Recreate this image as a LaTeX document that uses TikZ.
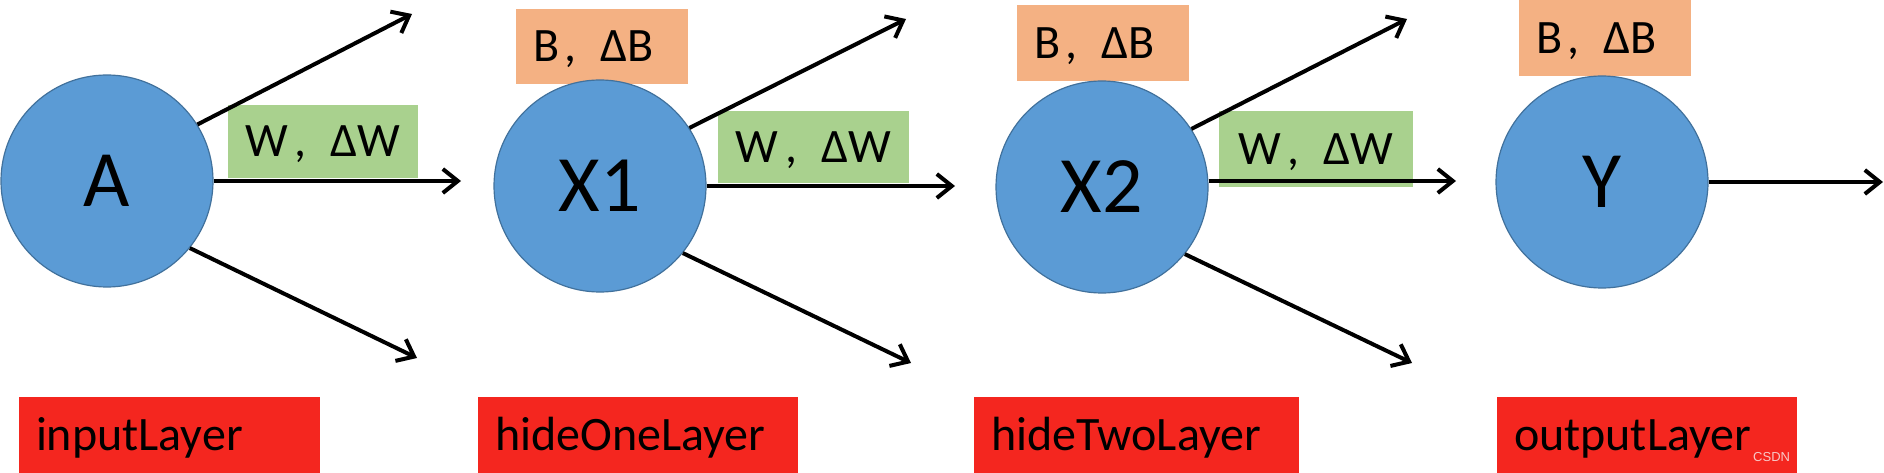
\documentclass[tikz,border=0pt]{standalone}
\usepackage{fontspec}
\setmainfont{Carlito}
\newfontfamily\wmfont{Liberation Sans}
\usetikzlibrary{arrows.meta}
\definecolor{nblue}{HTML}{5B9BD5}
\definecolor{nedge}{HTML}{41719C}
\definecolor{wgreen}{HTML}{A9D18E}
\definecolor{borange}{HTML}{F4B183}
\definecolor{lred}{HTML}{F4261F}
\definecolor{wmark}{HTML}{F8C8C6}
\newcommand{\wdw}{W\kern0.14em,\kern0.5em ΔW}
\newcommand{\bdb}{B\kern0.12em,\kern0.5em ΔB}
\begin{document}
\begin{tikzpicture}[x=1pt,y=-1pt,
  neuron/.style={circle, minimum size=212pt, inner sep=0pt, fill=nblue, draw=nedge, line width=1.2pt,
    font=\fontsize{80}{80}\selectfont},
  wbox/.style={fill=wgreen, inner sep=0pt, font=\fontsize{48}{48}\selectfont, text height=31pt, text depth=0pt},
  bbox/.style={fill=borange, inner xsep=17pt, inner ysep=0pt, align=left, text width=138pt,
    minimum width=172pt, font=\fontsize{48}{48}\selectfont, text height=31pt, text depth=0pt},
  lbox/.style={fill=lred, inner xsep=17pt, inner ysep=0pt, align=left, minimum height=76pt,
    font=\fontsize{48}{48}\selectfont, text height=31pt, text depth=0pt},
  conn/.style={line width=4pt, -{Straight Barb[length=15pt,width=24pt]}}
]
\useasboundingbox (0,0) rectangle (1884,473);

% weight boxes
\node[wbox, minimum width=190pt, minimum height=73pt] (wA) at (323,141.5) {\wdw};
\node[wbox, minimum width=191pt, minimum height=72pt] (wX1) at (813.5,147) {\wdw};
\node[wbox, minimum width=194pt, minimum height=76pt] (wX2) at (1316,149) {\wdw};

% bias boxes
\node[bbox, minimum height=75pt] (bX1) at (602,46.5) {\bdb};
\node[bbox, minimum height=76pt] (bX2) at (1103,43) {\bdb};
\node[bbox, minimum height=76pt] (bY) at (1605,38) {\bdb};

% neurons
\node[neuron] (A) at (107,181) {A};
\node[neuron] (X1) at (600,186) {X1};
\node[neuron] (X2) at (1102,187) {X2};
\node[neuron] (Y) at (1602,182) {Y};

% layer labels
\node[lbox, minimum width=301pt, text width=267pt] (lA) at (169.5,435) {inputLayer};
\node[lbox, minimum width=320pt, text width=286pt] (lX1) at (638,435) {hideOneLayer};
\node[lbox, minimum width=325pt, text width=291pt] (lX2) at (1136.5,435) {hideTwoLayer};
\node[lbox, minimum width=300pt, text width=266pt] (lY) at (1647,435) {outputLayer};
\node[font=\wmfont\fontsize{13}{13}\selectfont, text=wmark, inner sep=0pt, anchor=base west] (wm) at (1753,461) {CSDN};

% arrow end points
\coordinate (aU) at (412,14);
\coordinate (aM) at (461,181);
\coordinate (aL) at (417,358);
\coordinate (x1U) at (906,19);
\coordinate (x1M) at (955,186);
\coordinate (x1L) at (911,363);
\coordinate (x2U) at (1407,19);
\coordinate (x2M) at (1456,181);
\coordinate (x2L) at (1412,363);
\coordinate (yM) at (1883,182);

\draw[conn] (A.32) -- (aU);
\draw[conn] (A.east) -- (aM);
\draw[conn] (A.-39) -- (aL);
\draw[conn] (X1.33) -- (x1U);
\draw[conn] (X1.east) -- (x1M);
\draw[conn] (X1.-39) -- (x1L);
\draw[conn] (X2.33) -- (x2U);
\draw[conn] (X2.east |- x2M) -- (x2M);
\draw[conn] (X2.-39) -- (x2L);
\draw[conn] (Y.east) -- (yM);
\end{tikzpicture}
\end{document}
